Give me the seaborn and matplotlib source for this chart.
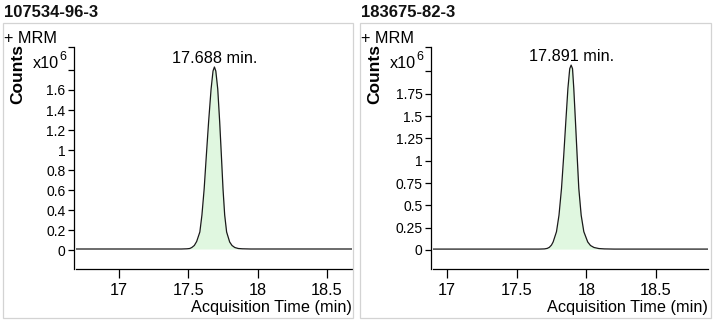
import matplotlib
matplotlib.use("Agg")
import matplotlib.pyplot as plt
from matplotlib.patches import Rectangle
import pandas as pd
import seaborn as sns

# Compounds and their MRM peak retention times (min)
compounds = ["107534-96-3", "183675-82-3"]
retention_times = [17.688, 17.891]

# Chromatogram traces: acquisition time (min) and counts (x10^6)
time_a = [16.69, 17.45, 17.49, 17.51, 17.525, 17.543, 17.560, 17.583, 17.598,
          17.614, 17.630, 17.646, 17.664, 17.678, 17.688, 17.698, 17.712, 17.726,
          17.738, 17.750, 17.762, 17.776, 17.798, 17.815, 17.835, 17.86, 17.89,
          17.95, 18.68]
counts_a = [0.01, 0.01, 0.012, 0.015, 0.025, 0.045, 0.085, 0.18, 0.35,
            0.61, 0.95, 1.28, 1.61, 1.79, 1.83, 1.79, 1.61, 1.28,
            0.95, 0.61, 0.35, 0.18, 0.08, 0.045, 0.025, 0.015, 0.012,
            0.01, 0.01]

time_b = [16.90, 17.66, 17.70, 17.72, 17.735, 17.750, 17.762, 17.786, 17.804,
          17.822, 17.838, 17.853, 17.868, 17.881, 17.891, 17.901, 17.910, 17.922,
          17.934, 17.946, 17.963, 17.982, 18.010, 18.03, 18.055, 18.09, 18.13,
          18.20, 18.873]
counts_b = [0.01, 0.01, 0.012, 0.018, 0.03, 0.055, 0.09, 0.205, 0.39,
            0.69, 1.06, 1.44, 1.81, 2.03, 2.07, 2.03, 1.81, 1.44,
            1.06, 0.69, 0.39, 0.205, 0.09, 0.05, 0.028, 0.016, 0.012,
            0.01, 0.01]

# Axis ticks
xticks = [17, 17.5, 18, 18.5]
yticks_a = [0, 0.2, 0.4, 0.6, 0.8, 1.0, 1.2, 1.4, 1.6, 1.8]
ylabels_a = ["0", "0.2", "0.4", "0.6", "0.8", "1", "1.2", "1.4", "1.6", ""]
yticks_b = [0, 0.25, 0.5, 0.75, 1.0, 1.25, 1.5, 1.75, 2.0]
ylabels_b = ["0", "0.25", "0.5", "0.75", "1", "1.25", "1.5", "1.75", ""]

sns.set_style("ticks")
plt.rcParams["font.family"] = ["Liberation Sans", "DejaVu Sans"]

W, H = 714, 324
fig = plt.figure(figsize=(W / 100, H / 100), dpi=100)
fig.patch.set_facecolor("white")


def fx(px):
    return px / W


def fy(py):
    return 1 - py / H


panels = [
    dict(name=compounds[0], rt=retention_times[0], t=time_a, c=counts_a,
         yt=yticks_a, yl=ylabels_a, frame=(3, 23, 353, 318),
         ax=(76, 47, 352, 269), xlim=(16.69, 18.68), ylim=(-0.19, 2.03)),
    dict(name=compounds[1], rt=retention_times[1], t=time_b, c=counts_b,
         yt=yticks_b, yl=ylabels_b, frame=(360, 23, 711, 318),
         ax=(433, 47, 708, 269), xlim=(16.90, 18.873), ylim=(-0.213, 2.273)),
]

FS = 11.7
for p in panels:
    fl, ft, fr, fb = p["frame"]
    fig.add_artist(Rectangle((fx(fl), fy(fb)), (fr - fl) / W, (fb - ft) / H,
                             transform=fig.transFigure, fill=False,
                             ec="#d3d3d3", lw=0.9))
    fig.text(fx(fl + 1), fy(17), p["name"], fontsize=12, fontweight="bold",
             va="baseline", ha="left", color="#111111")
    fig.text(fx(fl + 1), fy(43), "+ MRM", fontsize=FS, va="baseline",
             ha="left", color="black")

    al, at, ar, ab = p["ax"]
    ax = fig.add_axes([fx(al), fy(ab), (ar - al) / W, (ab - at) / H])
    ax.set_facecolor("white")

    df = pd.DataFrame({"time": p["t"], "counts": p["c"]})
    sns.lineplot(data=df, x="time", y="counts", ax=ax, color="#1a1a1a",
                 lw=0.9, sort=False, estimator=None, legend=False)
    peak = df[(df["counts"] > 0.01)]
    ax.fill_between(peak["time"], peak["counts"], 0.01, color="#e0f7e0",
                    lw=0, zorder=0)

    ax.set_xlim(*p["xlim"])
    ax.set_ylim(*p["ylim"])
    ax.set_xticks(xticks)
    ax.set_xticklabels([f"{v:g}" for v in xticks], fontsize=FS)
    ax.set_yticks(p["yt"] + [p["ylim"][1]])
    ax.set_yticklabels(p["yl"] + [""], fontsize=FS)
    ax.set_xlabel("")
    ax.set_ylabel("")

    for s in ["top", "right"]:
        ax.spines[s].set_visible(False)
    for s in ["left", "bottom"]:
        ax.spines[s].set_color("black")
        ax.spines[s].set_linewidth(0.9)
    ax.spines["left"].set_position(("outward", 1.5))
    ax.tick_params(axis="y", length=4.5, width=0.9, pad=1.5, colors="black")
    ax.tick_params(axis="x", length=6.8, width=0.9, pad=3.5, colors="black")

    # Peak apex annotation
    apex = max(p["c"])
    ax.annotate(f"{p['rt']:.3f} min.", xy=(p["rt"], apex), xytext=(0, 0.5),
                textcoords="offset points", ha="center", va="bottom",
                fontsize=FS, color="black")

    fig.text(fx(ar), fy(312), "Acquisition Time (min)", fontsize=FS,
             ha="right", va="baseline", color="black")
    fig.text(fx(fl + 14.5), fy(74), "Counts", fontsize=12.5, fontweight="bold",
             rotation=90, ha="center", va="center", color="black")
    fig.text(fx(al - 17), fy(68.5), "x10", fontsize=FS, ha="right",
             va="baseline", color="black")
    fig.text(fx(al - 17), fy(59.5), "6", fontsize=9, ha="left",
             va="baseline", color="black")

fig.savefig("out.png", dpi=100, facecolor="white")
